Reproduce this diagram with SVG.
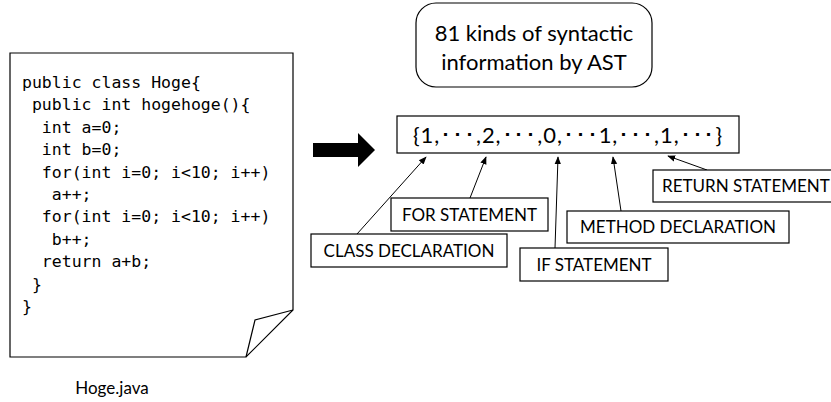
<svg xmlns="http://www.w3.org/2000/svg" width="831" height="402" viewBox="0 0 831 402">
<defs>
<style>
.ln{fill:none;stroke:#000;stroke-width:1.2}
.bx{fill:#fff;stroke:#000;stroke-width:1.2}
.code{font-family:"DejaVu Sans Mono","Liberation Mono",monospace;font-size:16.5px;fill:#000;white-space:pre}
.lb{font-family:Lato,"Liberation Sans",sans-serif;font-size:17px;fill:#000}
.big{font-family:Lato,"Liberation Sans",sans-serif;font-size:22px;fill:#000}
.con{fill:none;stroke:#000;stroke-width:1;marker-end:url(#ah)}
</style>
<marker id="ah" viewBox="0 0 10 10" refX="9" refY="5" markerWidth="8" markerHeight="8" markerUnits="userSpaceOnUse" orient="auto">
<path d="M0,1 L10,5 L0,9 z" fill="#000"/>
</marker>
</defs>
<g id="document">
<path class="bx" d="M10,53 H293 V310 L246,357 H10 Z"/>
<path class="ln" d="M293,310 L255,320 L246,357"/>
<text class="code" xml:space="preserve"><tspan x="22" y="88">public class Hoge{</tspan><tspan x="22" y="110.4"> public int hogehoge(){</tspan><tspan x="22" y="132.8">  int a=0;</tspan><tspan x="22" y="155.2">  int b=0;</tspan><tspan x="22" y="177.6">  for(int i=0; i&lt;10; i++)</tspan><tspan x="22" y="200">   a++;</tspan><tspan x="22" y="222.4">  for(int i=0; i&lt;10; i++)</tspan><tspan x="22" y="244.8">   b++;</tspan><tspan x="22" y="267.2">  return a+b;</tspan><tspan x="22" y="289.6"> }</tspan><tspan x="22" y="312">}</tspan></text>
</g>
<g id="filename">
<text class="lb" x="112" y="394" text-anchor="middle">Hoge.java</text>
</g>
<g id="bigarrow">
<path d="M313,143 H358 V133 L375,150 L358,167 V157 H313 Z" fill="#000"/>
</g>
<g id="ast-box">
<rect class="bx" x="416" y="3" width="236" height="84" rx="20" ry="20"/>
<text class="big" x="534" y="41" text-anchor="middle">81 kinds of syntactic</text>
<text class="big" x="534" y="70" text-anchor="middle">information by AST</text>
</g>
<g id="vector">
<rect class="bx" x="397" y="116" width="342" height="37"/>
<text class="big" x="413" y="143" textLength="309" lengthAdjust="spacing" font-family="Lato,'Noto Sans CJK JP',sans-serif">{1,･･･,2,･･･,0,･･･1,･･･,1,･･･}</text>
</g>
<g id="connectors">
<line class="con" x1="357" y1="234" x2="426" y2="157"/>
<line class="con" x1="470" y1="198" x2="486" y2="157"/>
<line class="con" x1="555" y1="248" x2="558" y2="157"/>
<line class="con" x1="621" y1="211" x2="613" y2="157"/>
<line class="con" x1="707" y1="170" x2="668" y2="156"/>
</g>
<g id="return-statement">
<rect class="bx" x="653" y="170" width="190" height="32"/>
<text class="lb" x="662" y="192">RETURN STATEMENT</text>
</g>
<g id="method-declaration">
<rect class="bx" x="567" y="211" width="222" height="32"/>
<text class="lb" x="678" y="233" text-anchor="middle">METHOD DECLARATION</text>
</g>
<g id="for-statement">
<rect class="bx" x="391" y="198" width="157" height="33"/>
<text class="lb" x="469.5" y="220.5" text-anchor="middle">FOR STATEMENT</text>
</g>
<g id="class-declaration">
<rect class="bx" x="311" y="234" width="196" height="33"/>
<text class="lb" x="409" y="256.5" text-anchor="middle">CLASS DECLARATION</text>
</g>
<g id="if-statement">
<rect class="bx" x="520" y="248" width="148" height="33"/>
<text class="lb" x="594" y="270.5" text-anchor="middle">IF STATEMENT</text>
</g>
</svg>
